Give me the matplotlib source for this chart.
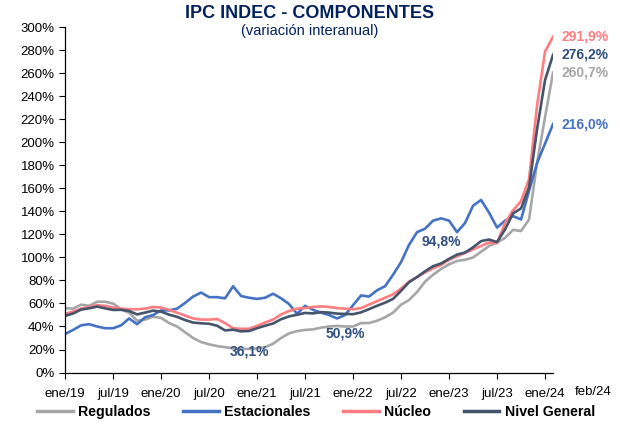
import matplotlib

matplotlib.use('Agg')
import matplotlib.pyplot as plt
import matplotlib.transforms as mtransforms
import numpy as np

plt.rcParams['font.family'] = ['Liberation Sans', 'DejaVu Sans']

# Variación interanual (%) mensual, ene/19 a feb/24
regulados = [56, 55.5, 59, 58, 61.5, 61.5, 60, 55, 52, 45, 46, 48.5,
             47.5, 43, 40, 35, 30, 26.5, 24.5, 23, 22, 21, 20.5, 20.5,
             21, 22, 25, 30, 34, 36, 37, 37.5, 39, 40, 40.5, 40,
             40, 43, 43, 45, 48, 52, 59, 63, 70, 79, 85, 90,
             94, 97, 98, 100, 105, 110, 113, 117, 124, 123, 133, 182,
             222, 260.7]
estacionales = [33.5, 37, 41, 42, 40, 38.5, 38.5, 41, 47, 42, 48, 50,
                54, 54, 55.5, 60.5, 66, 69.5, 65.5, 65.5, 64.5, 75, 66.5, 65,
                64, 65, 68.5, 64.5, 59.5, 51, 58, 54.5, 52, 50, 47, 50,
                58.5, 67, 66, 71.5, 75, 85, 96, 111, 122, 125, 132, 134,
                132, 122, 130, 145, 150, 139, 126, 132, 136, 133, 158, 182,
                199, 216.0]
nucleo = [51, 53, 55.5, 57, 58.5, 58, 56.5, 55.5, 55, 55, 55.5, 57,
          56.5, 54.5, 52, 49.5, 47, 46, 46, 46.5, 43, 38.5, 38, 38,
          40.5, 43.5, 46, 50.5, 53.5, 55.5, 56, 57, 57.5, 57, 56, 55.5,
          55, 56, 59, 62, 65, 68, 73, 79, 83, 87, 90.5, 93.5,
          98, 101, 104, 107, 110, 113, 112.5, 130, 141, 149, 168, 232,
          279, 291.9]
nivel_general = [49.3, 51.3, 54.7, 55.8, 57.3, 55.8, 54.4, 54.5, 53.5, 50.5, 52.1, 53.8,
                 52.9, 50.3, 48.4, 45.6, 43.4, 42.8, 42.4, 40.7, 36.6, 37.2, 35.8, 36.1,
                 38.5, 40.7, 42.6, 46.3, 48.8, 50.2, 51.8, 51.4, 52.5, 52.1, 51.2, 50.9,
                 50.7, 52.3, 55.1, 58.0, 60.7, 64.0, 71.0, 78.5, 83.0, 88.0, 92.4, 94.8,
                 98.8, 102.5, 104.3, 108.8, 114.2, 115.6, 113.4, 124.4, 138.3, 142.7, 160.9, 211.4,
                 254.2, 276.2]

etiquetas_x = ['ene/19', 'jul/19', 'ene/20', 'jul/20', 'ene/21', 'jul/21',
               'ene/22', 'jul/22', 'ene/23', 'jul/23', 'ene/24']
etiqueta_final = 'feb/24'

# Valores destacados de Nivel General (diciembre de cada año)
destacados_idx = [23, 35, 47]
destacados_txt = ['36,1%', '50,9%', '94,8%']

series = [
    ('Regulados', regulados, '#A6A6A6', '260,7%'),
    ('Estacionales', estacionales, '#4472C4', '216,0%'),
    ('Núcleo', nucleo, '#FF7C80', '291,9%'),
    ('Nivel General', nivel_general, '#44546A', '276,2%'),
]
color_texto = '#2F4F7F'

meses = np.arange(len(nivel_general))

fig = plt.figure(figsize=(6.2, 4.25), dpi=100)
ax = fig.add_axes([0.105, 0.1235, 0.787, 0.812])

for nombre, valores, color, etiqueta in series:
    ax.plot(meses, valores, color=color, linewidth=1.9, label=nombre,
            solid_joinstyle='round')
    color_etq = color_texto if nombre == 'Nivel General' else color
    ax.text(meses[-1] + 1.1, valores[-1], etiqueta, color=color_etq,
            fontsize=10, fontweight='bold', ha='left', va='center', clip_on=False)

# Etiquetas de los valores de diciembre
desplazamientos = [(0, -18), (0, -17), (0, 19)]
for idx, txt, (dx, dy) in zip(destacados_idx, destacados_txt, desplazamientos):
    ax.text(idx + dx, nivel_general[idx] + dy, txt, color=color_texto,
            fontsize=10, fontweight='bold', ha='center', va='center')

# Ejes
ax.set_xlim(0, len(meses) - 1)
ax.set_ylim(0, 300)
ax.set_yticks(np.arange(0, 301, 20))
ax.set_yticklabels([f'{v}%' for v in range(0, 301, 20)])
ax.set_xticks(np.arange(0, 61, 6))
ax.set_xticklabels(etiquetas_x)
trans = mtransforms.blended_transform_factory(ax.transData, ax.transAxes)
ax.text(66, -0.057, etiqueta_final, transform=trans, ha='center', va='center',
        fontsize=9.5, clip_on=False)
ax.tick_params(axis='both', labelsize=9.5, length=4, width=0.8)
ax.tick_params(axis='x', pad=7)
ax.spines['top'].set_visible(False)
ax.spines['right'].set_visible(False)
for lado in ['left', 'bottom']:
    ax.spines[lado].set_linewidth(0.9)

# Título
fig.text(0.5, 0.968, 'IPC INDEC - COMPONENTES', ha='center', va='center',
         fontsize=13, fontweight='bold', color='#002060')
fig.text(0.5, 0.926, '(variación interanual)', ha='center', va='center',
         fontsize=10.5, color='#002060')

# Leyenda inferior
leyenda = fig.legend(loc='center', bbox_to_anchor=(0.51, 0.03), ncol=4,
                     frameon=False, handlelength=2.5, handletextpad=0.4,
                     columnspacing=2.3, prop={'weight': 'bold', 'size': 10.2})
for linea in leyenda.get_lines():
    linea.set_linewidth(2.5)

plt.savefig('out.png', dpi=100)
plt.close(fig)
